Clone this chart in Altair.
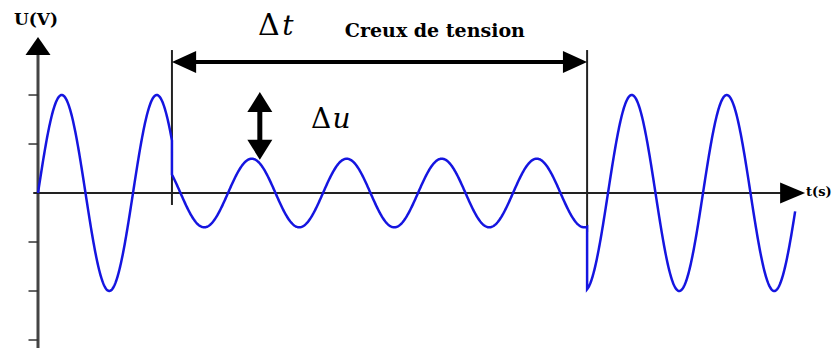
import numpy as np
import pandas as pd
import altair as alt

# --- values (time in ms, voltage in p.u.) ---
period = 20.0          # ms
amp_full = 1.0
amp_sag = 0.35
sag_start = 28.2
sag_end = 115.6
t_stop = 159.4

y_ticks = [1.0, 0.5, -0.5, -1.0, -1.5]

# annotation positions (data units)
dt_arrow_y = 1.337
du_arrow_x = 46.7
du_top = 1.03
du_bottom = 0.34

x_dom = [-6.3158, 167.158]
y_dom = [-1.602, 1.888]

# --- waveform built from the read parameters ---
t = np.linspace(0, t_stop, 1600)
t = np.sort(np.concatenate([t, [sag_start, sag_end]]))
amp = np.where((t > sag_start) & (t < sag_end), amp_sag, amp_full)
u = amp * np.sin(2 * np.pi * t / period)
order = np.arange(len(t)).astype(float)
rows = pd.DataFrame({"t": t, "u": u, "o": order})
# explicit jumps at sag start / end
jump = pd.DataFrame({
    "t": [sag_start, sag_start, sag_end, sag_end],
    "u": [amp_full * np.sin(2 * np.pi * sag_start / period),
          amp_sag * np.sin(2 * np.pi * sag_start / period),
          amp_sag * np.sin(2 * np.pi * sag_end / period),
          amp_full * np.sin(2 * np.pi * sag_end / period)],
})
i0 = int(np.searchsorted(t, sag_start))
i1 = int(np.searchsorted(t, sag_end))
wave = pd.concat([
    rows[rows.t < sag_start],
    jump.iloc[:2].assign(o=[i0 - 0.6, i0 - 0.4]),
    rows[(rows.t > sag_start) & (rows.t < sag_end)],
    jump.iloc[2:].assign(o=[i1 - 0.6, i1 - 0.4]),
    rows[rows.t > sag_end],
]).reset_index(drop=True)

xs = alt.Scale(domain=x_dom, nice=False, zero=False)
ys = alt.Scale(domain=y_dom, nice=False, zero=False)


def X(f="t"):
    return alt.X(f"{f}:Q", scale=xs, axis=None)


def Y(f="u"):
    return alt.Y(f"{f}:Q", scale=ys, axis=None)


def rules(df, width, color="black"):
    return alt.Chart(df).mark_rule(strokeWidth=width, color=color).encode(
        x=X("x"), x2="x2:Q", y=Y("y"), y2="y2:Q")


yaxis = rules(pd.DataFrame({"x": [0], "x2": [0], "y": [-1.582], "y2": [1.45]}), 3, "#444")
xaxis = rules(pd.DataFrame({"x": [-1.0], "x2": [157.0], "y": [0], "y2": [0]}), 2, "#222")
ticks = rules(pd.DataFrame({"x": [-2.0] * 5, "x2": [0.0] * 5, "y": y_ticks, "y2": y_ticks}), 1.5, "#333")
bounds = rules(pd.DataFrame({"x": [sag_start, sag_end], "x2": [sag_start, sag_end],
                             "y": [-0.122, -0.398], "y2": [1.459, 1.459]}), 2, "#222")
dt_line = rules(pd.DataFrame({"x": [sag_start + 1], "x2": [sag_end - 1],
                              "y": [dt_arrow_y], "y2": [dt_arrow_y]}), 4)
du_line = rules(pd.DataFrame({"x": [du_arrow_x], "x2": [du_arrow_x],
                              "y": [du_bottom + 0.1], "y2": [du_top - 0.1]}), 5)


def head(tx, ty, path, size):
    return alt.Chart(pd.DataFrame({"x": [tx], "y": [ty]})).mark_point(
        shape=path, size=size, filled=True, fill="black", stroke=None, opacity=1
    ).encode(x=X("x"), y=Y("y"))


heads = [
    head(sag_start, dt_arrow_y, "M0,0L2.3,-1.05L2.3,1.05Z", 441),
    head(sag_end, dt_arrow_y, "M0,0L-2.3,-1.05L-2.3,1.05Z", 441),
    head(du_arrow_x, du_top, "M0,0L-1.25,2L1.25,2Z", 400),
    head(du_arrow_x, du_bottom, "M0,0L-1.25,-2L1.25,-2Z", 400),
    head(0, 1.592, "M0,0L-1.25,1.8L1.25,1.8Z", 400),
    head(161.5, 0, "M0,0L-2.5,-1.05L-2.5,1.05Z", 400),
]

line = alt.Chart(wave).mark_line(color="#1515e0", strokeWidth=2.5).encode(
    x=X("t"), y=Y("u"), order="o:Q")


def label(tx, ty, text, size, align="left", baseline="middle", weight="bold",
          style="normal", font="DejaVu Serif"):
    return alt.Chart(pd.DataFrame({"x": [tx], "y": [ty], "s": [text]})).mark_text(
        align=align, baseline=baseline, fontSize=size, fontWeight=weight,
        fontStyle=style, font=font, color="black"
    ).encode(x=X("x"), y=Y("y"), text="s:N")


labels = [
    label(-0.42, 1.765, "U(V)", 17, align="center"),
    label(161.7, 0.01, "t(s)", 13),
    label(64.6, 1.653, "Creux de tension", 19),
    label(46.3, 1.612, "Δ", 30, baseline="alphabetic", weight="normal"),
    label(51.4, 1.612, "t", 28, baseline="alphabetic", weight="normal", style="italic"),
    label(57.5, 0.663, "Δ", 28, baseline="alphabetic", weight="normal"),
    label(62.0, 0.663, "u", 28, baseline="alphabetic", weight="normal", style="italic"),
]

chart = alt.layer(
    yaxis, xaxis, ticks, bounds, line, dt_line, du_line, *heads, *labels
).properties(
    width=824, height=342, padding=0,
    autosize=alt.AutoSizeParams(type="none"),
).configure_view(stroke=None)

chart.save("out.html", embed_options={"renderer": "svg", "actions": False})
